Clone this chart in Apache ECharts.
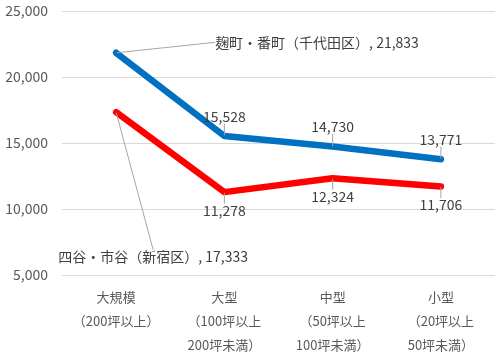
<!DOCTYPE html>
<html><head><meta charset="utf-8">
<script src="https://cdn.jsdelivr.net/npm/echarts@6/dist/echarts.min.js"></script>
<style>html,body{margin:0;padding:0;background:#fff}#c{width:500px;height:357px}</style>
</head><body><div id="c"></div>
<script>
const categories = ['大規模\n（200坪以上）', '大型\n（100坪以上\n200坪未満）', '中型\n（50坪以上\n100坪未満）', '小型\n（20坪以上\n50坪未満）'];
const seriesNames = ['麹町・番町（千代田区）', '四谷・市谷（新宿区）'];
const kojimachi = [21833, 15528, 14730, 13771];
const yotsuya = [17333, 11278, 12324, 11706];
const yTicks = { min: 5000, max: 25000, interval: 5000 };

const FONT = '"Noto Sans CJK JP", "Noto Sans", sans-serif';
const fmt = v => v.toLocaleString('en-US');

function mkData(arr, name) {
  return arr.map((v, i) => i === 0 ? {
    value: v,
    label: { formatter: name + ', ' + fmt(v) }
  } : v);
}

const chart = echarts.init(document.getElementById('c'), null, { renderer: 'canvas' });
chart.setOption({
  animation: false,
  grid: { left: 62, right: 5, top: 11, bottom: 82, containLabel: false },
  xAxis: {
    type: 'category', data: categories, boundaryGap: true,
    axisLine: { show: false }, axisTick: { show: false },
    axisLabel: { color: '#595959', fontFamily: FONT, fontSize: 13, lineHeight: 24, margin: 10, interval: 0 }
  },
  yAxis: {
    type: 'value', min: yTicks.min, max: yTicks.max, interval: yTicks.interval,
    axisLine: { show: false }, axisTick: { show: false },
    axisLabel: { color: '#595959', fontFamily: FONT, fontSize: 14, margin: 14, formatter: v => fmt(v) },
    splitLine: { lineStyle: { color: '#d9d9d9', width: 1 } }
  },
  series: [
    {
      name: seriesNames[0], type: 'line', data: mkData(kojimachi, seriesNames[0]),
      symbol: 'circle', symbolSize: 1, showSymbol: true,
      lineStyle: { color: '#0070C0', width: 6.5, cap: 'round', join: 'round' },
      itemStyle: { color: '#0070C0' },
      label: { show: true, position: 'top', distance: 12, color: '#404040', fontFamily: FONT, fontSize: 14, formatter: p => fmt(p.value) },
      labelLine: { show: true, lineStyle: { color: '#a6a6a6', width: 1 } },
      labelLayout: p => p.dataIndex === 0 ? { dx: 99, dy: 2, align: 'left', verticalAlign: 'middle' } : {}
    },
    {
      name: seriesNames[1], type: 'line', data: mkData(yotsuya, seriesNames[1]),
      symbol: 'circle', symbolSize: 1, showSymbol: true,
      lineStyle: { color: '#FF0000', width: 6.5, cap: 'round', join: 'round' },
      itemStyle: { color: '#FF0000' },
      label: { show: true, position: 'bottom', distance: 11, color: '#404040', fontFamily: FONT, fontSize: 14, formatter: p => fmt(p.value) },
      labelLine: { show: true, lineStyle: { color: '#a6a6a6', width: 1 } },
      labelLayout: p => p.dataIndex === 0 ? { dx: 37, dy: 133, align: 'center', verticalAlign: 'middle' } : {}
    }
  ]
});
</script></body></html>
